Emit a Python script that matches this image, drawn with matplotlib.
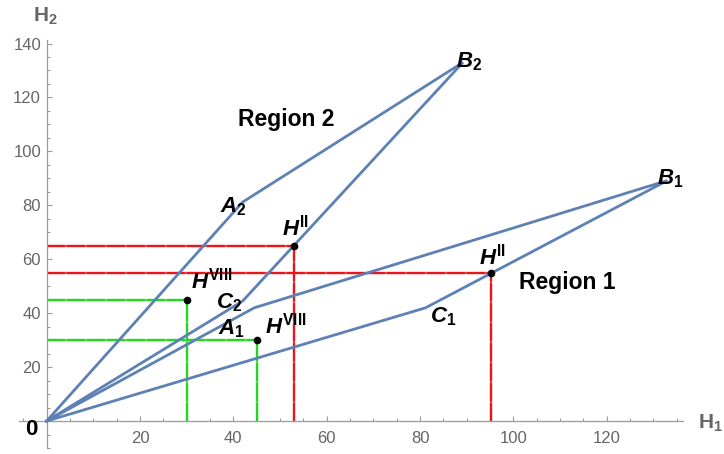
import numpy as np
import matplotlib.pyplot as plt
from matplotlib.ticker import MultipleLocator, FixedLocator

plt.rcParams['font.family'] = ['Liberation Sans', 'DejaVu Sans']
plt.rcParams['mathtext.fontset'] = 'custom'
plt.rcParams['mathtext.it'] = 'Liberation Sans:italic:bold'
plt.rcParams['mathtext.rm'] = 'Liberation Sans:bold'
plt.rcParams['mathtext.bf'] = 'Liberation Sans:bold'

# corner points of the two regions (H1, H2)
O = (0.0, 0.0)
A1 = (44.5, 42.0)
B1 = (133.0, 89.2)
C1 = (81.2, 42.0)
A2 = (42.0, 81.2)
B2 = (89.2, 133.0)
C2 = (42.0, 44.5)

# marked points: H^II on each region edge, H^VIII inside each region
H2_region2 = (53.0, 65.0)
H2_region1 = (95.3, 55.0)
H8_region2 = (30.0, 45.0)
H8_region1 = (45.0, 30.0)

x_ticks = [20, 40, 60, 80, 100, 120]
y_ticks = [20, 40, 60, 80, 100, 120, 140]

blue = '#5e81b5'
red = '#e8161b'
green = '#22d81e'
axis_grey = '#9a9a9a'
text_grey = '#666666'

fig = plt.figure(figsize=(7.24, 4.54), dpi=100)
ax = fig.add_axes([0.0267, 0.0132, 0.917, 0.8987])
ax.set_xlim(-5.85, 136.4)
ax.set_ylim(-10, 141.3)

# guide lines from the marked points down and across to the axes
def guide(pt, col):
    x, y = pt
    for xs, ys in (([0, x], [y, y]), ([x, x], [0, y])):
        ax.plot(xs, ys, color=col, lw=1.6, alpha=0.8, solid_capstyle='butt', zorder=2)
        ax.plot(xs, ys, color=col, lw=1.6, dashes=(8, 1), zorder=2)

guide(H2_region2, red)
guide(H2_region1, red)
guide(H8_region2, green)
guide(H8_region1, green)

# region boundaries
for poly in ((O, A1, B1, C1, O), (O, A2, B2, C2, O)):
    xs, ys = zip(*poly)
    ax.plot(xs, ys, color=blue, lw=2.0, solid_joinstyle='miter', zorder=3)

pts = [H2_region2, H2_region1, H8_region2, H8_region1]
ax.plot([p[0] for p in pts], [p[1] for p in pts], 'o', color='black',
        ms=4.5, zorder=4)

# point labels
lab = dict(fontsize=16, ha='center', va='center', color='black', zorder=5)
ax.text(39.9, 79.5, r'$A_{\mathrm{2}}$', **lab)
ax.text(90.5, 133.2, r'$B_{\mathrm{2}}$', **lab)
ax.text(39.1, 43.7, r'$C_{\mathrm{2}}$', **lab)
ax.text(39.5, 34.3, r'$A_{\mathrm{1}}$', **lab)
ax.text(133.6, 90.0, r'$B_{\mathrm{1}}$', **lab)
ax.text(84.9, 38.7, r'$C_{\mathrm{1}}$', **lab)
ax.text(53.3, 71.6, r'$H^{\mathrm{II}}$', **lab)
ax.text(95.6, 60.9, r'$H^{\mathrm{II}}$', **lab)
ax.text(35.4, 52.0, r'$H^{\mathrm{VIII}}$', **lab)
ax.text(51.3, 35.3, r'$H^{\mathrm{VIII}}$', **lab)

ax.text(51.4, 112.0, 'Region 2', fontsize=16.5, fontweight='bold', ha='center', va='center')
ax.text(111.6, 51.5, 'Region 1', fontsize=16.5, fontweight='bold', ha='center', va='center')
ax.text(-3.2, -3.3, '0', fontsize=16, fontweight='bold', ha='center', va='center')

# axis titles
ax.text(-0.3, 150.0, r'$\mathrm{H}_{\mathrm{2}}$', fontsize=15, color=text_grey,
        ha='center', va='center', clip_on=False)
ax.text(142.2, -0.7, r'$\mathrm{H}_{\mathrm{1}}$', fontsize=15, color=text_grey,
        ha='center', va='center', clip_on=False)

# axes through the origin
for side in ('top', 'right'):
    ax.spines[side].set_visible(False)
for side in ('left', 'bottom'):
    ax.spines[side].set_position(('data', 0))
    ax.spines[side].set_color(axis_grey)
    ax.spines[side].set_linewidth(0.9)

ax.xaxis.set_major_locator(FixedLocator(x_ticks))
ax.yaxis.set_major_locator(FixedLocator(y_ticks))
ax.xaxis.set_minor_locator(MultipleLocator(5))
ax.yaxis.set_minor_locator(MultipleLocator(5))
ax.tick_params(which='both', direction='in', color=axis_grey, width=0.8,
               labelcolor=text_grey, labelsize=12)
ax.tick_params(which='major', length=3.8)
ax.tick_params(which='minor', length=2.0)
ax.tick_params(axis='x', pad=7)
ax.tick_params(axis='y', pad=4)

fig.savefig('out.png', dpi=100)
